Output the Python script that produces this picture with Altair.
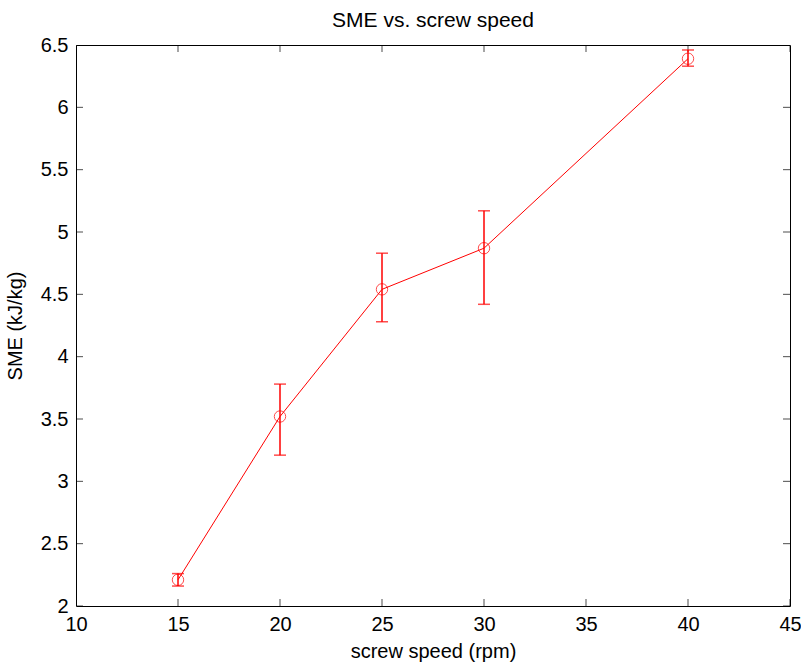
import altair as alt
import pandas as pd

speed = [15, 20, 25, 30, 40]
sme = [2.21, 3.52, 4.54, 4.87, 6.39]
sme_upper = [2.26, 3.78, 4.83, 5.17, 6.46]
sme_lower = [2.16, 3.21, 4.28, 4.42, 6.33]

x_ticks = [10, 15, 20, 25, 30, 35, 40, 45]
y_ticks = [2, 2.5, 3, 3.5, 4, 4.5, 5, 5.5, 6, 6.5]

X_MIN, X_MAX = 10, 45
Y_MIN, Y_MAX = 2, 6.5

df = pd.DataFrame({"speed": speed, "sme": sme, "upper": sme_upper, "lower": sme_lower})
xt = pd.DataFrame({"speed": x_ticks * 2, "sme": [Y_MIN] * len(x_ticks) + [Y_MAX] * len(x_ticks)})
yt = pd.DataFrame({"sme": y_ticks * 2, "speed": [X_MIN] * len(y_ticks) + [X_MAX] * len(y_ticks)})

RED = "#ff0000"
FONT = "Liberation Sans"

xscale = alt.Scale(domain=[X_MIN, X_MAX], nice=False, zero=False)
yscale = alt.Scale(domain=[Y_MIN, Y_MAX], nice=False, zero=False)

x_bottom = alt.X("speed:Q", scale=xscale, axis=alt.Axis(
    orient="bottom", values=x_ticks, ticks=False, domain=False, grid=False,
    labelPadding=8, title="screw speed (rpm)", titleBaseline="alphabetic",
    titleY=51, titleFontSize=20, titleFontWeight="normal", labelFlush=False))
y_left = alt.Y("sme:Q", scale=yscale, axis=alt.Axis(
    orient="left", values=y_ticks, ticks=False, domain=False, grid=False,
    labelPadding=8, format="~g", title="SME (kJ/kg)", titleBaseline="alphabetic",
    titleX=-55, titleFontSize=20, titleFontWeight="normal", labelFlush=False))

base = alt.Chart(df)

line = base.mark_line(color=RED, strokeWidth=1).encode(x=x_bottom, y=y_left)
bars = base.mark_rule(color=RED, strokeWidth=1.5).encode(
    x="speed:Q", y="lower:Q", y2="upper:Q")
cap_hi = base.mark_tick(color=RED, orient="horizontal", size=12, thickness=1.5).encode(
    x="speed:Q", y="upper:Q")
cap_lo = base.mark_tick(color=RED, orient="horizontal", size=12, thickness=1.5).encode(
    x="speed:Q", y="lower:Q")
pts = base.mark_point(shape="circle", filled=False, color=RED, size=130, strokeWidth=1).encode(
    x="speed:Q", y="sme:Q")

xtick_marks = alt.Chart(xt).mark_tick(color="black", orient="vertical", size=14,
                                      thickness=1, clip=True).encode(
    x="speed:Q", y="sme:Q")
ytick_marks = alt.Chart(yt).mark_tick(color="black", orient="horizontal", size=14,
                                      thickness=1, clip=True).encode(
    x="speed:Q", y="sme:Q")

chart = alt.layer(line, xtick_marks, ytick_marks, bars, cap_hi, cap_lo, pts).properties(
    width=714, height=561,
    autosize=alt.AutoSizeParams(type="none"),
    padding={"left": 76, "top": 45, "right": 11, "bottom": 58},
    background="white",
    title=alt.Title("SME vs. screw speed", fontSize=21, fontWeight="normal",
                    font=FONT, color="black", anchor="middle", baseline="bottom",
                    offset=13, dy=30),
).configure_view(stroke="black", strokeWidth=1).configure_axis(
    labelFont=FONT, titleFont=FONT, labelFontSize=20, labelColor="black",
    titleColor="black", grid=False,
)

chart.save("out.html", embed_options={"renderer": "svg", "actions": False})
